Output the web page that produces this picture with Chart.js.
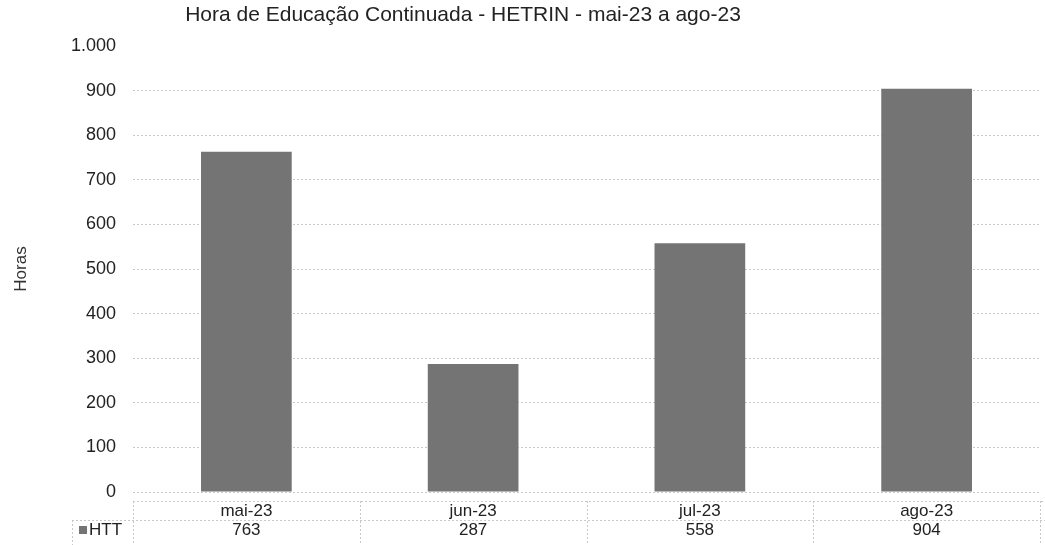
<!DOCTYPE html>
<html>
<head>
<meta charset="utf-8">
<script src="https://cdn.jsdelivr.net/npm/chart.js@4.4.1/dist/chart.umd.min.js"></script>
<style>
  html, body { margin: 0; padding: 0; background: #fff; }
  #wrap { width: 1045px; height: 545px; position: relative; }
</style>
</head>
<body>
<div id="wrap"><canvas id="horas"></canvas></div>
<script>
// dados
const meses = ['mai-23', 'jun-23', 'jul-23', 'ago-23'];
const htt = [763, 287, 558, 904];
const serieNome = 'HTT';
const tituloTexto = 'Hora de Educação Continuada - HETRIN - mai-23 a ago-23';

const fonte = 'Arial, "Liberation Sans", sans-serif';
const corBarra = '#747474';
const corGrade = '#c8c8c8';

function milhar(v) {
  return String(v).replace(/\B(?=(\d{3})+(?!\d))/g, '.');
}

// título e tabela de dados desenhados em cima do gráfico
const tabelaPlugin = {
  id: 'tabela',
  afterDraw(chart) {
    const ctx = chart.ctx;
    const x = chart.scales.x;
    const area = chart.chartArea;
    const banda = (x.getPixelForValue(1) - x.getPixelForValue(0));
    const topo = area.bottom + 9;
    const meio = topo + 19;
    const fim = chart.height + 4;

    ctx.save();
    ctx.fillStyle = '#222';
    ctx.font = '21px ' + fonte;
    ctx.textAlign = 'center';
    ctx.textBaseline = 'middle';
    ctx.fillText(tituloTexto, 463, 15);

    ctx.strokeStyle = corGrade;
    ctx.lineWidth = 1;
    ctx.setLineDash([2, 2]);
    ctx.beginPath();
    // linhas horizontais
    ctx.moveTo(area.left, topo + 0.5); ctx.lineTo(chart.width, topo + 0.5);
    ctx.moveTo(72, meio + 0.5); ctx.lineTo(chart.width, meio + 0.5);
    // linhas verticais
    ctx.moveTo(72.5, meio); ctx.lineTo(72.5, fim);
    for (let i = 0; i <= meses.length; i++) {
      const px = Math.round(x.getPixelForValue(i) - banda / 2) + 0.5;
      ctx.moveTo(px, topo); ctx.lineTo(px, fim);
    }
    ctx.stroke();
    ctx.setLineDash([]);

    ctx.font = '17px ' + fonte;
    ctx.fillStyle = '#222';
    meses.forEach((m, i) => {
      const px = x.getPixelForValue(i);
      ctx.fillText(m, px, (topo + meio) / 2 + 1);
      ctx.fillText(String(htt[i]), px, meio + 10);
    });

    // legenda da série
    ctx.fillStyle = corBarra;
    ctx.fillRect(79, meio + 6, 8, 8);
    ctx.fillStyle = '#222';
    ctx.textAlign = 'left';
    ctx.fillText(serieNome, 89, meio + 10);
    ctx.restore();
  }
};

new Chart(document.getElementById('horas'), {
  type: 'bar',
  plugins: [tabelaPlugin],
  data: {
    labels: meses,
    datasets: [{
      label: serieNome,
      data: htt,
      backgroundColor: corBarra,
      borderWidth: 0,
      barPercentage: 0.4,
      categoryPercentage: 1
    }]
  },
  options: {
    responsive: true,
    maintainAspectRatio: false,
    animation: false,
    layout: { padding: { top: 46, right: 5, bottom: 53, left: 11 } },
    plugins: {
      legend: { display: false },
      title: { display: false },
      tooltip: { enabled: false }
    },
    scales: {
      x: {
        display: false,
        grid: { display: false }
      },
      y: {
        min: 0,
        max: 1000,
        afterFit(scale) { scale.width = 122; },
        ticks: {
          stepSize: 100,
          padding: 17,
          color: '#222',
          font: { family: fonte, size: 18 },
          callback: v => milhar(v)
        },
        grid: {
          drawTicks: false,
          color: ctx => (ctx.tick && ctx.tick.value === 1000) ? 'rgba(0,0,0,0)' : corGrade,
          lineWidth: 1
        },
        border: { display: false, dash: [2, 2] },
        title: {
          display: true,
          text: 'Horas',
          color: '#333',
          font: { family: fonte, size: 17 },
          padding: { top: 0, bottom: 0 }
        }
      }
    }
  }
});
</script>
</body>
</html>
